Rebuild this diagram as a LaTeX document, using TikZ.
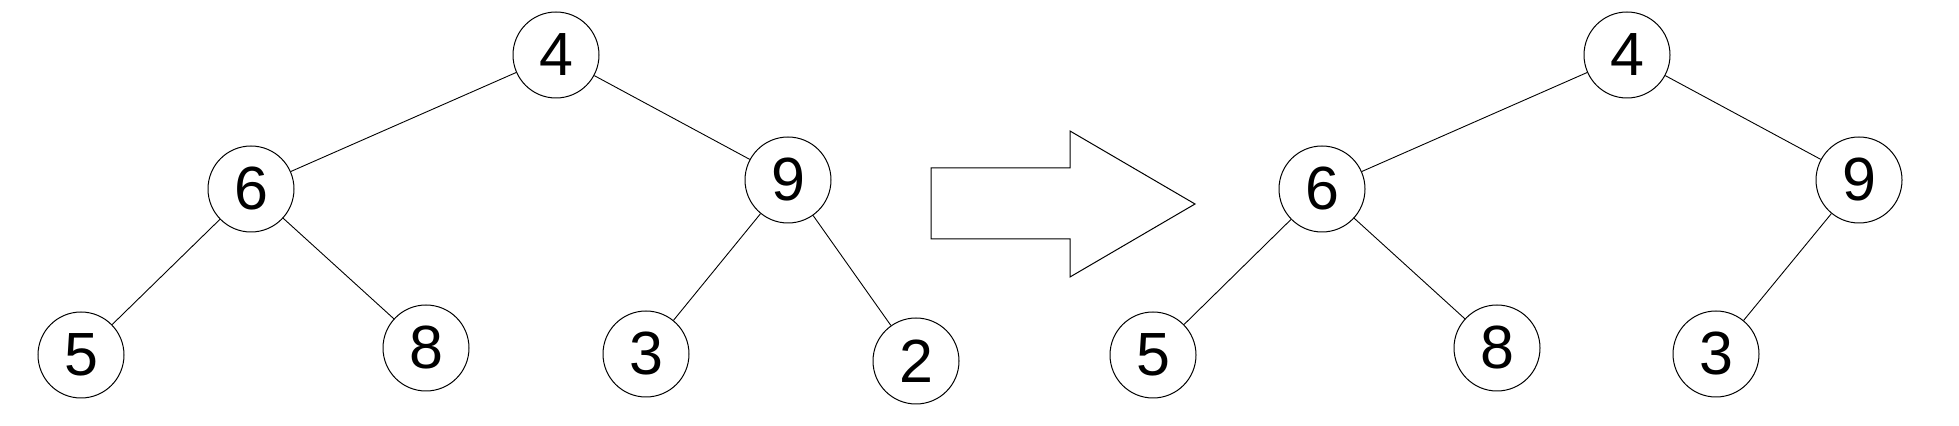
\documentclass[tikz,border=0pt]{standalone}
\usepackage{fontspec}
\setmainfont{Liberation Sans}
\begin{document}
\begin{tikzpicture}[x=0.5pt,y=-0.5pt,
  tnode/.style={circle,draw,line width=0.5pt,minimum size=43pt,inner sep=0pt,font=\fontsize{30.5}{30.5}\selectfont},
  edge/.style={line width=0.45pt}]
\useasboundingbox (0,0) rectangle (1959,426);
% left tree
\node[tnode] (a4) at (556,55) {4};
\node[tnode] (a6) at (251,189) {6};
\node[tnode] (a9) at (788,180) {9};
\node[tnode] (a5) at (81,355) {5};
\node[tnode] (a8) at (426,348) {8};
\node[tnode] (a3) at (646,354) {3};
\node[tnode] (a2) at (916,361) {2};
\draw[edge] (a4) -- (a6);
\draw[edge] (a4) -- (a9);
\draw[edge] (a6) -- (a5);
\draw[edge] (a6) -- (a8);
\draw[edge] (a9) -- (a3);
\draw[edge] (a9) -- (a2);
% arrow
\draw[line width=0.5pt] (931,168) -- (1070,168) -- (1070,131) -- (1195,204) -- (1070,277) -- (1070,239) -- (931,239) -- cycle;
% right tree
\node[tnode] (b4) at (1627,55) {4};
\node[tnode] (b6) at (1322,189) {6};
\node[tnode] (b9) at (1859,180) {9};
\node[tnode] (b5) at (1153,355) {5};
\node[tnode] (b8) at (1497,348) {8};
\node[tnode] (b3) at (1716,354) {3};
\draw[edge] (b4) -- (b6);
\draw[edge] (b4) -- (b9);
\draw[edge] (b6) -- (b5);
\draw[edge] (b6) -- (b8);
\draw[edge] (b9) -- (b3);
\end{tikzpicture}
\end{document}
